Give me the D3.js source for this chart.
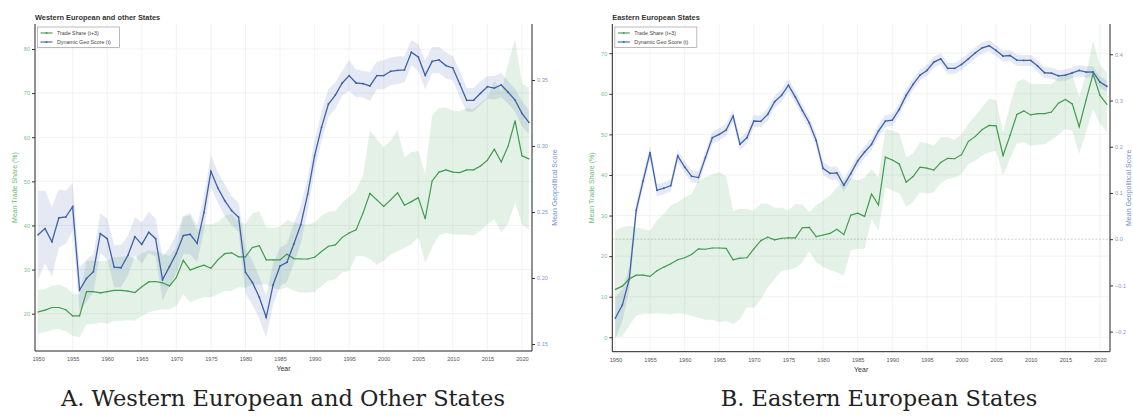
<!DOCTYPE html>
<html><head><meta charset="utf-8">
<script src="https://cdn.jsdelivr.net/npm/d3@7"></script>
<style>
html,body{margin:0;padding:0;background:#fff;}
svg{display:block;font-family:"Liberation Sans",Arial,sans-serif;}
</style></head>
<body><svg id="c" width="1133" height="418"></svg>
<script>
const years = [1950,1951,1952,1953,1954,1955,1956,1957,1958,1959,1960,1961,1962,1963,1964,1965,1966,1967,1968,1969,1970,1971,1972,1973,1974,1975,1976,1977,1978,1979,1980,1981,1982,1983,1984,1985,1986,1987,1988,1989,1990,1991,1992,1993,1994,1995,1996,1997,1998,1999,2000,2001,2002,2003,2004,2005,2006,2007,2008,2009,2010,2011,2012,2013,2014,2015,2016,2017,2018,2019,2020,2021];
const yearTicks = [1950,1955,1960,1965,1970,1975,1980,1985,1990,1995,2000,2005,2010,2015,2020];

// Western European and other States
const weosTrade = [20.4,20.8,21.4,21.4,20.9,19.5,19.5,25.0,25.0,24.7,25.0,25.3,25.3,25.1,24.8,26.1,27.2,27.3,27.0,26.3,28.2,32.1,29.9,30.5,31.0,30.3,32.2,33.6,33.8,32.9,32.9,35.0,35.4,32.2,32.2,32.2,33.5,32.5,32.4,32.4,32.8,34.1,35.3,35.6,37.3,38.3,39.0,42.8,47.3,45.8,44.3,45.8,47.4,44.6,45.4,46.3,41.5,50.1,52.1,52.6,52.1,52.0,52.6,52.6,53.5,54.8,57.3,54.4,58.0,63.7,55.8,55.1];
const weosTradeHi = [25.3,25.6,26.3,26.6,26.0,24.6,24.3,32.0,32.0,31.9,32.0,32.8,32.9,33.1,32.4,33.7,34.3,34.1,33.7,33.1,35.0,42.0,42.2,38.8,40.3,40.3,40.7,42.2,42.6,40.9,40.3,42.7,43.3,39.6,39.4,39.7,41.2,40.7,40.2,40.2,40.7,42.2,43.1,43.3,45.2,46.5,47.9,51.3,61.5,59.6,57.7,59.2,61.6,55.4,56.6,56.9,51.7,64.9,66.6,66.8,66.0,65.9,66.6,66.4,67.9,69.0,72.8,70.4,76.6,82.3,72.1,71.2];
const weosTradeLo = [15.5,15.8,16.3,16.5,16.1,15.0,14.6,17.6,17.6,18.0,17.8,18.4,18.4,18.5,18.4,19.5,20.3,20.7,21.0,21.0,21.8,24.4,22.6,23.3,23.7,23.7,24.4,25.2,25.2,26.0,25.8,26.6,26.6,26.7,25.8,25.4,26.0,25.2,24.8,24.8,25.0,26.3,27.5,27.8,29.4,29.7,33.0,33.1,32.4,31.1,32.0,33.4,34.1,34.9,35.8,37.3,31.6,35.0,37.7,38.3,38.0,37.9,37.9,37.7,38.8,40.2,41.5,38.4,40.5,45.2,40.3,39.0];
const weosGeo = [0.2328,0.2374,0.2275,0.2455,0.2462,0.2540,0.1909,0.1997,0.2048,0.2336,0.2298,0.2083,0.2078,0.2172,0.2313,0.2255,0.2346,0.2298,0.1987,0.2086,0.2187,0.2321,0.2331,0.2263,0.2497,0.2808,0.2682,0.2586,0.2510,0.2460,0.2043,0.1967,0.1854,0.1702,0.1949,0.2091,0.2119,0.2258,0.2404,0.2636,0.2927,0.3141,0.3318,0.3386,0.3477,0.3533,0.3477,0.3472,0.3455,0.3533,0.3533,0.3566,0.3573,0.3576,0.3710,0.3674,0.3535,0.3641,0.3652,0.3609,0.3591,0.3470,0.3346,0.3346,0.3399,0.3449,0.3439,0.3462,0.3407,0.3348,0.3247,0.3179];
const weosGeoHi = [0.266,0.266,0.254,0.267,0.266,0.272,0.208,0.214,0.218,0.249,0.245,0.225,0.225,0.232,0.246,0.242,0.250,0.245,0.216,0.223,0.233,0.247,0.249,0.240,0.262,0.293,0.280,0.271,0.262,0.257,0.222,0.213,0.201,0.187,0.211,0.223,0.226,0.241,0.255,0.276,0.304,0.326,0.343,0.348,0.357,0.365,0.358,0.357,0.356,0.364,0.365,0.367,0.368,0.368,0.380,0.377,0.365,0.375,0.375,0.371,0.368,0.357,0.344,0.344,0.349,0.353,0.353,0.355,0.349,0.343,0.334,0.327];
const weosGeoLo = [0.199,0.211,0.201,0.223,0.226,0.236,0.175,0.182,0.189,0.219,0.214,0.193,0.193,0.202,0.217,0.211,0.219,0.216,0.183,0.194,0.204,0.218,0.218,0.212,0.236,0.269,0.257,0.247,0.240,0.235,0.188,0.180,0.169,0.155,0.180,0.194,0.197,0.211,0.226,0.251,0.281,0.304,0.322,0.328,0.338,0.342,0.337,0.337,0.334,0.343,0.343,0.346,0.347,0.348,0.361,0.357,0.343,0.355,0.355,0.351,0.350,0.337,0.326,0.326,0.331,0.336,0.335,0.337,0.332,0.326,0.315,0.309];
const weosTradeTicks = [20,30,40,50,60,70,80];
const weosGeoTicks = [0.15,0.20,0.25,0.30,0.35];

// Eastern European States
const eeTrade = [11.8,12.6,14.4,15.3,15.3,15.0,16.4,17.3,18.1,19.1,19.6,20.4,21.8,21.7,22.0,22.0,21.9,19.1,19.5,19.6,21.8,23.8,24.7,24.0,24.4,24.5,24.5,27.0,27.1,24.8,25.2,25.6,26.6,25.3,30.1,30.6,29.8,35.3,32.6,44.4,43.7,42.7,38.2,39.6,41.9,41.7,41.2,43.1,44.1,44.0,45.0,48.3,49.5,51.2,52.2,52.1,44.8,49.7,54.9,55.8,54.8,55.1,55.1,55.5,57.7,58.6,57.5,51.9,58.5,64.9,59.6,57.4];
const eeTradeHi = [26.3,27.1,27.5,27.1,26.7,26.3,28.8,30.4,32.5,33.3,34.5,35.3,38.6,39.4,40.1,40.7,39.6,31.2,31.6,31.6,31.2,32.9,32.9,31.9,32.0,31.2,32.9,32.7,30.8,32.5,33.7,34.9,37.0,38.6,39.4,38.6,39.4,41.5,39.4,51.4,50.9,50.3,44.4,45.2,48.1,47.8,47.2,49.3,49.3,48.6,50.1,52.6,54.6,56.9,58.8,58.5,50.5,57.1,62.9,63.7,62.4,62.4,62.4,62.4,63.9,64.9,64.9,59.2,64.9,73.1,67.0,65.3];
const eeTradeLo = [0.2,0.2,2.9,5.3,5.8,5.8,5.9,5.8,5.6,5.9,5.8,5.3,4.8,4.3,4.3,3.7,4.1,3.3,4.5,7.4,7.2,9.4,12.3,14.4,16.4,16.6,17.1,18.5,21.2,18.5,17.3,16.6,16.0,15.2,21.4,21.8,21.8,29.2,26.3,37.0,36.2,35.5,32.2,33.3,35.7,35.5,35.7,38.0,39.0,39.3,40.3,42.7,43.5,44.8,45.6,45.9,39.9,44.0,47.7,48.1,47.2,47.5,47.5,48.6,50.0,51.4,50.9,45.2,50.5,56.3,52.6,50.5];
const eeGeo = [-0.1706,-0.1425,-0.0864,0.0626,0.1260,0.1872,0.1058,0.1102,0.1159,0.1800,0.1562,0.1361,0.1332,0.1764,0.2196,0.2268,0.2361,0.2664,0.2052,0.2196,0.2556,0.2549,0.2700,0.2973,0.3110,0.3333,0.3074,0.2786,0.2520,0.2138,0.1533,0.1425,0.1433,0.1166,0.1418,0.1692,0.1886,0.2052,0.2340,0.2556,0.2577,0.2808,0.3110,0.3348,0.3549,0.3650,0.3830,0.3902,0.3693,0.3693,0.3780,0.3902,0.4032,0.4140,0.4183,0.4082,0.3960,0.3974,0.3873,0.3866,0.3866,0.3744,0.3600,0.3593,0.3535,0.3549,0.3600,0.3650,0.3614,0.3621,0.3398,0.3305];
const eeGeoErr = [0.045,0.035,0.025,0.016,0.015,0.014,0.013,0.013,0.013,0.013,0.013,0.013,0.013,0.013,0.013,0.013,0.013,0.013,0.013,0.013,0.013,0.013,0.013,0.013,0.013,0.013,0.013,0.013,0.013,0.013,0.014,0.014,0.014,0.014,0.014,0.013,0.013,0.013,0.013,0.013,0.013,0.013,0.012,0.012,0.012,0.012,0.012,0.012,0.012,0.012,0.012,0.012,0.012,0.012,0.012,0.012,0.012,0.012,0.012,0.012,0.012,0.012,0.012,0.012,0.012,0.012,0.012,0.012,0.012,0.012,0.012,0.012];
const eeTradeTicks = [0,10,20,30,40,50,60,70];
const eeGeoTicks = [-0.2,-0.1,0.0,0.1,0.2,0.3,0.4];

const legendLabels = ["Trade Share (t+3)", "Dynamic Geo Score (t)"];

const GREEN = "#3f9b4e", BLUE = "#3d61ab";
const GREEN_TXT = "#7dc283", BLUE_TXT = "#7f9ad0";

const panels = [
  {title:"Western European and other States", caption:"A. Western European and Other States",
   x0:35, x1:532, y0:24, y1:351,
   trade:weosTrade, tradeLo:weosTradeLo, tradeHi:weosTradeHi,
   geo:weosGeo, geoLo:weosGeoLo, geoHi:weosGeoHi,
   tDom:[11.54,85.67], gDom:[0.1447,0.3924], tTicks:weosTradeTicks, gTicks:weosGeoTicks, gFmt:".2f",
   zero:false, capX:283, rOff:25},
  {title:"Eastern European States", caption:"B. Eastern European States",
   x0:612.3, x1:1110, y0:24, y1:351.7,
   trade:eeTrade, tradeLo:eeTradeLo, tradeHi:eeTradeHi,
   geo:eeGeo, geoLo:eeGeo.map((v,i)=>v-eeGeoErr[i]), geoHi:eeGeo.map((v,i)=>v+eeGeoErr[i]),
   tDom:[-3.55,77.2], gDom:[-0.2434,0.4655], tTicks:eeTradeTicks, gTicks:eeGeoTicks, gFmt:".1f",
   zero:true, capX:879, rOff:21}
];

const svg = d3.select("#c");

panels.forEach(p => {
  const x = d3.scaleLinear().domain([1949.55, 2021.45]).range([p.x0, p.x1]);
  const yT = d3.scaleLinear().domain(p.tDom).range([p.y1, p.y0]);
  const yG = d3.scaleLinear().domain(p.gDom).range([p.y1, p.y0]);
  const g = svg.append("g");

  // grid
  g.append("g").selectAll("line").data(yearTicks).join("line")
    .attr("x1", d=>x(d)).attr("x2", d=>x(d)).attr("y1", p.y0).attr("y2", p.y1)
    .attr("stroke", "#efefef").attr("stroke-width", 0.8);
  g.append("g").selectAll("line").data(p.tTicks).join("line")
    .attr("x1", p.x0).attr("x2", p.x1).attr("y1", d=>yT(d)).attr("y2", d=>yT(d))
    .attr("stroke", "#efefef").attr("stroke-width", 0.8);

  if (p.zero) {
    g.append("line").attr("x1", p.x0).attr("x2", p.x1).attr("y1", yG(0)).attr("y2", yG(0))
      .attr("stroke", "#c8c8c8").attr("stroke-width", 0.9).attr("stroke-dasharray", "2,1.5");
  }

  const idx = years.map((d,i)=>i);
  const areaT = d3.area().x(i=>x(years[i])).y0(i=>yT(p.tradeLo[i])).y1(i=>yT(p.tradeHi[i]));
  const areaG = d3.area().x(i=>x(years[i])).y0(i=>yG(p.geoLo[i])).y1(i=>yG(p.geoHi[i]));
  const lineT = d3.line().x(i=>x(years[i])).y(i=>yT(p.trade[i]));
  const lineG = d3.line().x(i=>x(years[i])).y(i=>yG(p.geo[i]));

  g.append("path").attr("d", areaT(idx)).attr("fill", GREEN).attr("fill-opacity", 0.14);
  g.append("path").attr("d", areaG(idx)).attr("fill", BLUE).attr("fill-opacity", 0.14);
  g.append("path").attr("d", lineT(idx)).attr("fill", "none").attr("stroke", GREEN).attr("stroke-width", 1.2);
  g.append("path").attr("d", lineG(idx)).attr("fill", "none").attr("stroke", BLUE).attr("stroke-width", 1.3);
  g.append("g").selectAll("circle").data(idx).join("circle")
    .attr("cx", i=>x(years[i])).attr("cy", i=>yG(p.geo[i])).attr("r", 0.9).attr("fill", BLUE);
  g.append("g").selectAll("circle").data(idx).join("circle")
    .attr("cx", i=>x(years[i])).attr("cy", i=>yT(p.trade[i])).attr("r", 0.6).attr("fill", GREEN);

  // spines
  g.append("line").attr("x1", p.x0).attr("x2", p.x0).attr("y1", p.y0).attr("y2", p.y1).attr("stroke", "#222").attr("stroke-width", 1);
  g.append("line").attr("x1", p.x1).attr("x2", p.x1).attr("y1", p.y0).attr("y2", p.y1).attr("stroke", "#222").attr("stroke-width", 1);
  g.append("line").attr("x1", p.x0).attr("x2", p.x1).attr("y1", p.y1).attr("y2", p.y1).attr("stroke", "#222").attr("stroke-width", 1);

  // axes
  const axL = d3.axisLeft(yT).tickValues(p.tTicks).tickSize(3).tickPadding(2).tickFormat(d3.format("d"));
  const gL = g.append("g").attr("transform", `translate(${p.x0},0)`).call(axL);
  gL.select(".domain").remove();
  gL.selectAll("line").attr("stroke", "#333");
  gL.selectAll("text").attr("fill", GREEN_TXT).style("font-size", "5.6px").style("font-family", "Liberation Sans, Arial, sans-serif");

  const axR = d3.axisRight(yG).tickValues(p.gTicks).tickSize(3).tickPadding(2).tickFormat(d3.format(p.gFmt));
  const gR = g.append("g").attr("transform", `translate(${p.x1},0)`).call(axR);
  gR.select(".domain").remove();
  gR.selectAll("line").attr("stroke", "#333");
  gR.selectAll("text").attr("fill", BLUE_TXT).style("font-size", "5.6px").style("font-family", "Liberation Sans, Arial, sans-serif");

  const axB = d3.axisBottom(x).tickValues(yearTicks).tickSize(0).tickPadding(6).tickFormat(d3.format("d"));
  const gB = g.append("g").attr("transform", `translate(0,${p.y1})`).call(axB);
  gB.select(".domain").remove();
  gB.selectAll("text").attr("fill", "#555").style("font-size", "5.6px").style("font-family", "Liberation Sans, Arial, sans-serif");

  // labels
  g.append("text").attr("x", (p.x0+p.x1)/2).attr("y", p.y1+20).attr("text-anchor", "middle")
    .attr("fill", "#333").style("font-size", "7px").text("Year");
  g.append("text").attr("transform", `translate(${p.x0-18},${(p.y0+p.y1)/2}) rotate(-90)`)
    .attr("text-anchor", "middle").attr("fill", "#6dbb74").style("font-size", "7px").text("Mean Trade Share (%)");
  g.append("text").attr("transform", `translate(${p.x1+p.rOff},${(p.y0+p.y1)/2}) rotate(-90)`)
    .attr("text-anchor", "middle").attr("fill", "#6f8fcf").style("font-size", "7px").text("Mean Geopolitical Score");

  g.append("text").attr("x", p.x0).attr("y", p.y0-4).attr("fill", "#333")
    .style("font-size", "7.4px").style("font-weight", "bold").text(p.title);

  // legend
  const lg = g.append("g").attr("transform", `translate(${p.x0+2.5},${p.y0+3})`);
  lg.append("rect").attr("width", 82).attr("height", 20.5).attr("fill", "#fff").attr("fill-opacity", 0.85)
    .attr("stroke", "#aaa").attr("stroke-width", 0.8);
  [GREEN, BLUE].forEach((c, i) => {
    const yy = 6 + i*9;
    lg.append("line").attr("x1", 3).attr("x2", 15).attr("y1", yy).attr("y2", yy).attr("stroke", c).attr("stroke-width", 1.1);
    lg.append("circle").attr("cx", 9).attr("cy", yy).attr("r", 0.9).attr("fill", c);
    lg.append("text").attr("x", 19.5).attr("y", yy+2).attr("fill", "#444").style("font-size", "5.3px").text(legendLabels[i]);
  });

  // caption
  svg.append("text").attr("x", p.capX).attr("y", 406).attr("text-anchor", "middle")
    .attr("fill", "#222").style("font-family", "DejaVu Serif, serif").style("font-size", "22.5px").text(p.caption);
});
</script>
</body></html>
